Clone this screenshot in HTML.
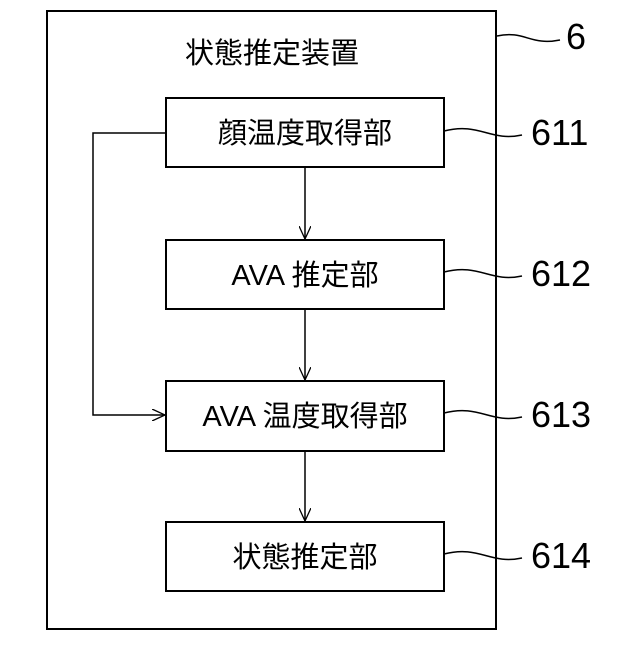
<!DOCTYPE html>
<html><head><meta charset="utf-8"><style>
body{margin:0;background:#fff}
svg text{font-family:"Liberation Sans","Noto Sans CJK JP",sans-serif;fill:#000}
</style></head><body>
<svg width="640" height="640" viewBox="0 0 640 640" xmlns="http://www.w3.org/2000/svg">
<defs><marker id="a" markerWidth="14" markerHeight="12" refX="13" refY="6" orient="auto" markerUnits="userSpaceOnUse"><path d="M0,0 L13,6 L0,12" fill="none" stroke="#000" stroke-width="1.3"/></marker></defs>
<g fill="none" stroke="#000" stroke-width="2">
<rect x="47" y="11" width="449" height="618"/>
<rect x="166" y="98" width="278" height="69"/>
<rect x="166" y="240" width="278" height="69"/>
<rect x="166" y="381" width="278" height="70"/>
<rect x="166" y="522" width="278" height="69"/>
</g>
<g fill="none" stroke="#000" stroke-width="1.5">
<line x1="305" y1="167" x2="305" y2="239" marker-end="url(#a)"/>
<line x1="305" y1="309" x2="305" y2="380" marker-end="url(#a)"/>
<line x1="305" y1="451" x2="305" y2="521" marker-end="url(#a)"/>
<polyline points="166,133 93,133 93,415 165,415" marker-end="url(#a)"/>
<path d="M497,36 C525,30 530,46 560,40"/>
<path d="M444,131 C480,122 490,142 522,135"/>
<path d="M444,272 C480,263 490,283 522,276"/>
<path d="M444,413 C480,404 490,424 522,417"/>
<path d="M444,554 C480,545 490,565 522,558"/>
</g>
<g font-size="29" text-anchor="middle">
<text x="272" y="63">状態推定装置</text>
<text x="305" y="143">顔温度取得部</text>
<text x="305" y="285">AVA 推定部</text>
<text x="305" y="426">AVA 温度取得部</text>
<text x="305" y="567">状態推定部</text>
</g>
<g font-size="36">
<text x="566" y="49">6</text>
<text x="531" y="145">611</text>
<text x="531" y="286">612</text>
<text x="531" y="427">613</text>
<text x="531" y="568">614</text>
</g>
</svg>
</body></html>
